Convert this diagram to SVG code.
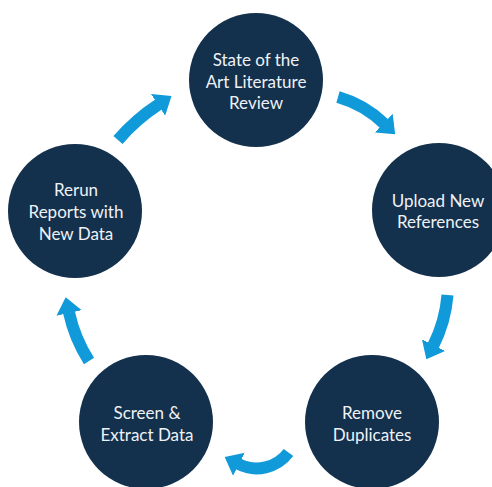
<svg xmlns="http://www.w3.org/2000/svg" width="492" height="487" viewBox="0 0 492 487">
<style>
.node circle{fill:#13304c}
.node text{fill:#eef2f6;font-family:Lato,"Liberation Sans",sans-serif;font-size:17px;text-anchor:middle}
.arrow{fill:none;stroke:#109ad9;stroke-width:12;stroke-linecap:butt}
</style>
<defs>
<marker id="head" markerUnits="userSpaceOnUse" viewBox="0 0 16 26" markerWidth="16" markerHeight="26" refX="0.5" refY="13" orient="auto">
<path d="M0,0 L16,13 L0,26 Z" fill="#109ad9"/>
</marker>
</defs>
<rect width="492" height="487" fill="#ffffff"/>
<g id="connectors">
<path class="arrow" marker-end="url(#head)" d="M338,97 A110,110 0 0 1 384,123.5"/>
<path class="arrow" marker-end="url(#head)" d="M447.5,295 A137,137 0 0 1 433.3,345.5"/>
<path class="arrow" marker-end="url(#head)" d="M288.5,452.5 A40,40 0 0 1 238.5,464"/>
<path class="arrow" marker-end="url(#head)" d="M89,361 A150,150 0 0 1 69,312.5"/>
<path class="arrow" marker-end="url(#head)" d="M118,140 A190,190 0 0 1 158.5,104.5"/>
</g>
<g id="node-review" class="node">
<circle cx="256" cy="80" r="67"/>
<text x="256" y="66">State of the</text>
<text x="256" y="87.5">Art Literature</text>
<text x="256" y="109">Review</text>
</g>
<g id="node-upload" class="node">
<circle cx="439" cy="210" r="67"/>
<text x="438" y="206.5">Upload New</text>
<text x="438" y="228">References</text>
</g>
<g id="node-remove" class="node">
<circle cx="372" cy="422" r="67"/>
<text x="372" y="419">Remove</text>
<text x="372" y="441">Duplicates</text>
</g>
<g id="node-screen" class="node">
<circle cx="146" cy="422" r="67"/>
<text x="147" y="419">Screen &amp;</text>
<text x="147" y="441">Extract Data</text>
</g>
<g id="node-rerun" class="node">
<circle cx="75" cy="211" r="67"/>
<text x="76" y="195.5">Rerun</text>
<text x="76" y="217.5">Reports with</text>
<text x="76" y="239.5">New Data</text>
</g>
</svg>
